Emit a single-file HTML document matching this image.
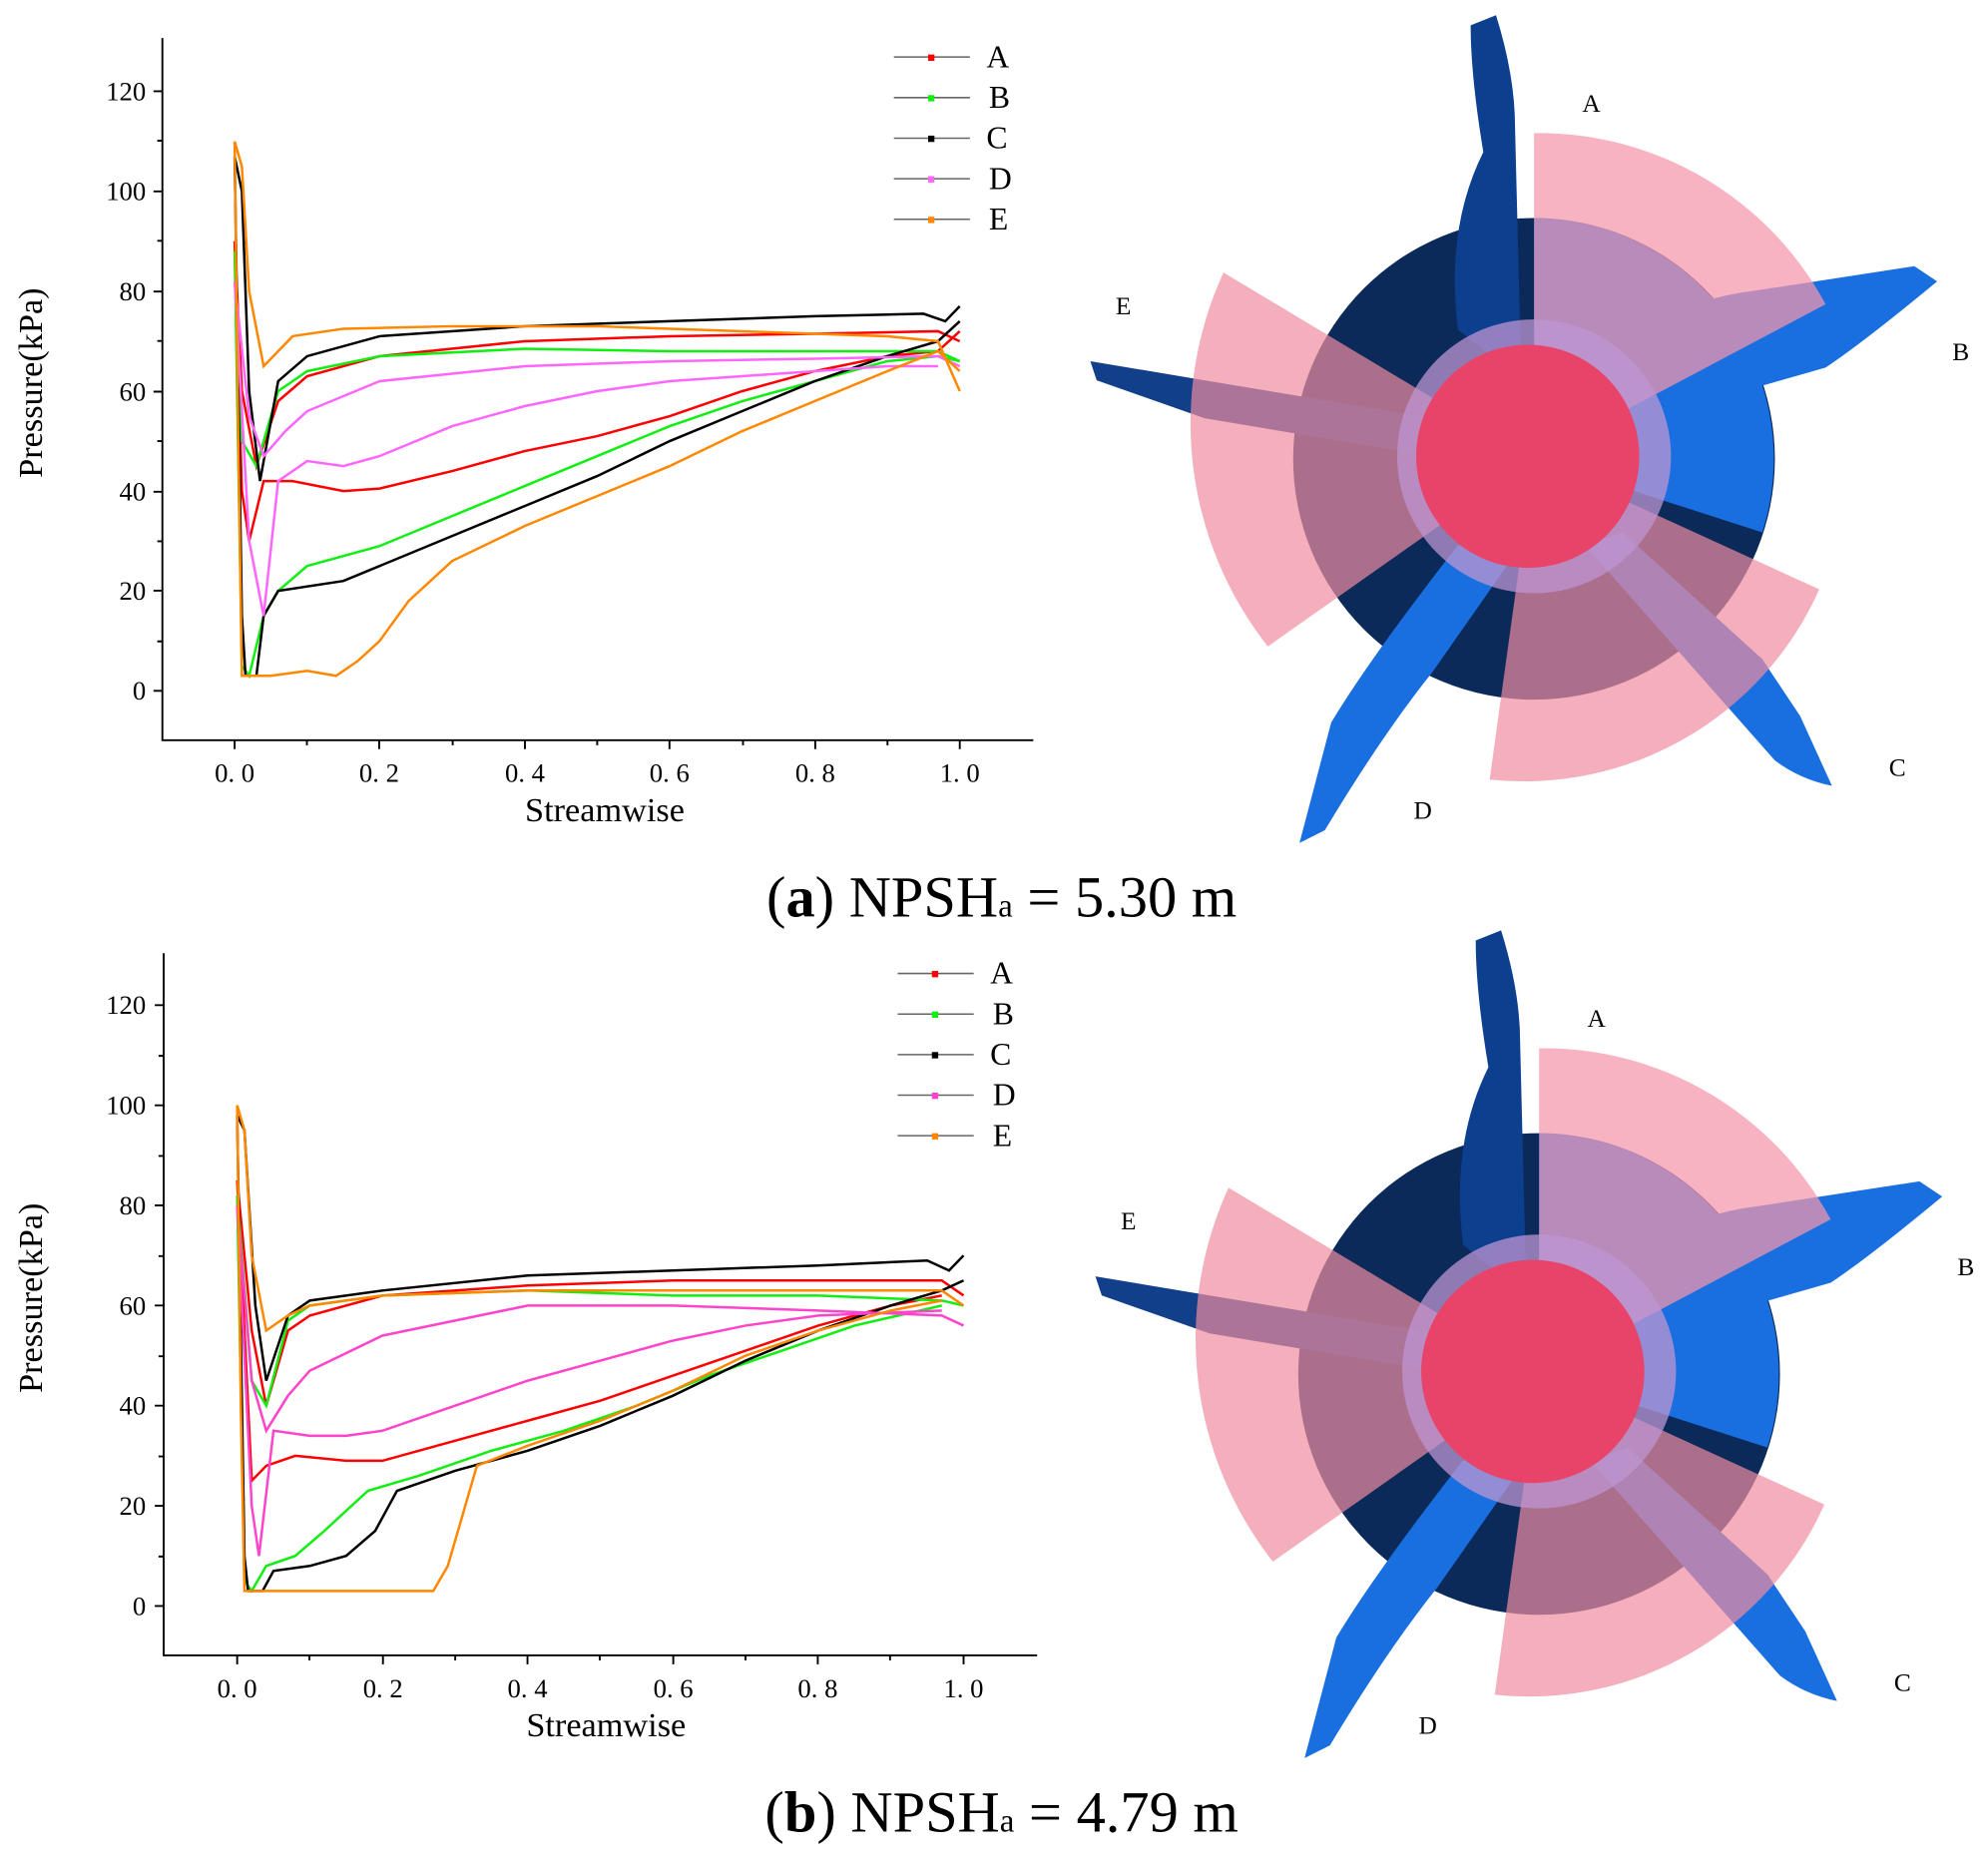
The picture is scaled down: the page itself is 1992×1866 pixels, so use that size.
<!DOCTYPE html>
<html><head><meta charset="utf-8">
<style>html,body{margin:0;padding:0;background:#fff}svg{display:block}</style></head>
<body>
<svg width="1992" height="1866" viewBox="0 0 1568 1469" xmlns="http://www.w3.org/2000/svg" font-family="Liberation Serif, serif">
<defs>
<g id="imp">
  <circle cx="1210" cy="362" r="190" fill="#0b2a5a"/>
  <path d="M1210,172 A190,190 0 0 1 1390,420 L1210,362 Z" fill="#1a6fe0"/>
  <path d="M1150,260 Q1140,180 1170,120 Q1160,60 1160,20 L1180,12 Q1195,60 1195,100 L1200,300 Z" fill="#0d3f8f"/>
  <path d="M1280,300 Q1300,240 1380,230 L1510,210 L1528,222 Q1470,270 1440,290 L1300,330 Z" fill="#1a6fe0"/>
  <path d="M1280,420 L1390,520 L1420,565 L1445,620 Q1420,615 1400,600 L1250,430 Z" fill="#1a6fe0"/>
  <path d="M1150,430 Q1080,520 1050,570 L1025,665 L1045,655 Q1090,580 1130,530 L1200,430 Z" fill="#1a6fe0"/>
  <path d="M1130,330 L950,300 L860,285 L865,300 L950,330 L1130,360 Z" fill="#123f8a"/>
  <path d="M1210,362 L1210,105 A257,257 0 0 1 1440,240 Z" fill="rgba(245,150,170,0.72)"/>
  <path d="M1210,362 L965,215 A285,285 0 0 0 1000,510 Z" fill="rgba(240,140,160,0.7)"/>
  <path d="M1210,362 L1175,615 A255,255 0 0 0 1435,465 Z" fill="rgba(240,140,160,0.7)"/>
  <circle cx="1210" cy="360" r="108" fill="rgba(190,150,210,0.75)"/>
  <circle cx="1205" cy="360" r="88" fill="#e8446a"/>
  <text x="1248" y="88" font-size="20">A</text>
  <text x="1540" y="284" font-size="20">B</text>
  <text x="1490" y="612" font-size="20">C</text>
  <text x="1115" y="646" font-size="20">D</text>
  <text x="880" y="248" font-size="20">E</text>
</g>
</defs>

<!-- Chart a -->
<g stroke="#000" stroke-width="1.5" fill="none">
  <path d="M128,30 V584 H815"/>
  <path d="M128,545 h-7 M128,466 h-7 M128,388 h-7 M128,309 h-7 M128,230 h-7 M128,151 h-7 M128,72 h-7 M128,506 h-4 M128,427 h-4 M128,348 h-4 M128,269 h-4 M128,190 h-4 M128,111 h-4"/>
  <path d="M185,584 v7 M299,584 v7 M414,584 v7 M528,584 v7 M643,584 v7 M757,584 v7 M242,584 v4 M357,584 v4 M471,584 v4 M586,584 v4 M700,584 v4"/>
</g>
<g font-size="21" text-anchor="end">
<text x="115" y="552">0</text><text x="115" y="473">20</text><text x="115" y="395">40</text><text x="115" y="316">60</text><text x="115" y="237">80</text><text x="115" y="158">100</text><text x="115" y="79">120</text>
</g>
<g font-size="21" text-anchor="middle">
<text x="185" y="617">0. 0</text><text x="299" y="617">0. 2</text><text x="414" y="617">0. 4</text><text x="528" y="617">0. 6</text><text x="643" y="617">0. 8</text><text x="757" y="617">1. 0</text>
</g>
<text x="477" y="648" font-size="27" text-anchor="middle">Streamwise</text>
<text transform="translate(33,302) rotate(-90)" font-size="27" text-anchor="middle">Pressure(kPa)</text>

<g transform="translate(185,545) scale(572,-3.94)" fill="none">
 <polyline stroke="#f00" stroke-width="2.5" vector-effect="non-scaling-stroke" points="0,90 0.01,60 0.03,45 0.06,58 0.1,63 0.2,67 0.4,70 0.6,71 0.8,71.5 0.97,72 1,70"/>
 <polyline stroke="#f00" stroke-width="2.5" vector-effect="non-scaling-stroke" points="0,90 0.01,40 0.02,30 0.04,42 0.08,42 0.15,40 0.2,40.5 0.3,44 0.4,48 0.5,51 0.6,55 0.7,60 0.8,64 0.9,67 0.97,68 1,72"/>
 <polyline stroke="#1e1" stroke-width="2.5" vector-effect="non-scaling-stroke" points="0,88 0.01,50 0.03,45 0.06,60 0.1,64 0.2,67 0.4,68.5 0.6,68 0.8,68 0.97,68 1,66"/>
 <polyline stroke="#1e1" stroke-width="2.5" vector-effect="non-scaling-stroke" points="0,88 0.01,5 0.02,3 0.04,15 0.06,20 0.1,25 0.2,29 0.3,35 0.4,41 0.5,47 0.6,53 0.7,58 0.8,62 0.9,66 0.97,67 1,66"/>
 <polyline stroke="#000" stroke-width="2.5" vector-effect="non-scaling-stroke" points="0,107 0.01,100 0.02,60 0.035,42 0.06,62 0.1,67 0.2,71 0.4,73 0.6,74 0.8,75 0.95,75.5 0.98,74 1,77"/>
 <polyline stroke="#000" stroke-width="2.5" vector-effect="non-scaling-stroke" points="0,107 0.01,15 0.015,3 0.03,3 0.04,15 0.06,20 0.15,22 0.2,25 0.3,31 0.4,37 0.5,43 0.6,50 0.7,56 0.8,62 0.9,67 0.97,70 1,74"/>
 <polyline stroke="#f6f" stroke-width="2.5" vector-effect="non-scaling-stroke" points="0,82 0.02,55 0.04,47 0.07,52 0.1,56 0.2,62 0.4,65 0.6,66 0.8,66.5 0.97,67 1,65"/>
 <polyline stroke="#f6f" stroke-width="2.5" vector-effect="non-scaling-stroke" points="0,82 0.02,30 0.04,15 0.06,42 0.1,46 0.15,45 0.2,47 0.3,53 0.4,57 0.5,60 0.6,62 0.7,63 0.8,64 0.9,65 0.97,65"/>
 <polyline stroke="#f80" stroke-width="2.5" vector-effect="non-scaling-stroke" points="0,110 0.01,105 0.02,80 0.04,65 0.08,71 0.15,72.5 0.3,73 0.5,73 0.7,72 0.9,71 0.97,70 1,60"/>
 <polyline stroke="#f80" stroke-width="2.5" vector-effect="non-scaling-stroke" points="0,110 0.005,50 0.01,3 0.05,3 0.1,4 0.14,3 0.17,6 0.2,10 0.24,18 0.3,26 0.4,33 0.5,39 0.6,45 0.7,52 0.8,58 0.9,64 0.97,68 1,64"/>
</g>
<g stroke-width="1.2" stroke="#666"><path d="M705,45 h60 M705,77 h60 M705,109 h60 M705,141 h60 M705,173 h60"/></g>
<g><rect x="732" y="43" width="5" height="5" fill="#f00"/><rect x="732" y="75" width="5" height="5" fill="#1e1"/><rect x="732" y="107" width="5" height="5" fill="#000"/><rect x="732" y="139" width="5" height="5" fill="#f6f"/><rect x="732" y="171" width="5" height="5" fill="#f80"/></g>
<g font-size="25"><text x="778" y="53">A</text><text x="780" y="85">B</text><text x="778" y="117">C</text><text x="780" y="149">D</text><text x="780" y="181">E</text></g>

<use href="#imp"/>
<text x="790" y="723" font-size="46" text-anchor="middle">(<tspan font-weight="bold">a</tspan>) NPSH<tspan font-size="26">a</tspan> = 5.30 m</text>

<!-- Chart b -->
<g stroke="#000" stroke-width="1.5" fill="none">
  <path d="M129,752 V1306 H818"/>
  <path d="M129,1267 h-7 M129,1188 h-7 M129,1109 h-7 M129,1030 h-7 M129,951 h-7 M129,872 h-7 M129,793 h-7 M129,1228 h-4 M129,1149 h-4 M129,1070 h-4 M129,991 h-4 M129,912 h-4 M129,833 h-4"/>
  <path d="M187,1306 v7 M302,1306 v7 M416,1306 v7 M531,1306 v7 M645,1306 v7 M760,1306 v7 M244,1306 v4 M359,1306 v4 M473,1306 v4 M588,1306 v4 M702,1306 v4"/>
</g>
<g font-size="21" text-anchor="end">
<text x="115" y="1274">0</text><text x="115" y="1195">20</text><text x="115" y="1116">40</text><text x="115" y="1037">60</text><text x="115" y="958">80</text><text x="115" y="879">100</text><text x="115" y="800">120</text>
</g>
<g font-size="21" text-anchor="middle">
<text x="187" y="1339">0. 0</text><text x="302" y="1339">0. 2</text><text x="416" y="1339">0. 4</text><text x="531" y="1339">0. 6</text><text x="645" y="1339">0. 8</text><text x="760" y="1339">1. 0</text>
</g>
<text x="478" y="1370" font-size="27" text-anchor="middle">Streamwise</text>
<text transform="translate(33,1024) rotate(-90)" font-size="27" text-anchor="middle">Pressure(kPa)</text>

<g transform="translate(187,1267) scale(573,-3.95)" fill="none">
 <polyline stroke="#f00" stroke-width="2.5" vector-effect="non-scaling-stroke" points="0,85 0.02,55 0.04,40 0.07,55 0.1,58 0.2,62 0.4,64 0.6,65 0.8,65 0.97,65 1,62"/>
 <polyline stroke="#f00" stroke-width="2.5" vector-effect="non-scaling-stroke" points="0,85 0.02,25 0.04,28 0.08,30 0.15,29 0.2,29 0.3,33 0.4,37 0.5,41 0.6,46 0.7,51 0.8,56 0.9,60 0.97,62"/>
 <polyline stroke="#1e1" stroke-width="2.5" vector-effect="non-scaling-stroke" points="0,82 0.02,45 0.04,40 0.07,57 0.1,60 0.2,62 0.4,63 0.6,62 0.8,62 0.97,61 1,60"/>
 <polyline stroke="#1e1" stroke-width="2.5" vector-effect="non-scaling-stroke" points="0,82 0.01,5 0.02,3 0.04,8 0.08,10 0.12,15 0.18,23 0.25,26 0.35,31 0.45,35 0.55,40 0.65,46 0.75,51 0.85,56 0.97,60"/>
 <polyline stroke="#000" stroke-width="2.5" vector-effect="non-scaling-stroke" points="0,98 0.01,95 0.025,60 0.04,45 0.07,58 0.1,61 0.2,63 0.4,66 0.6,67 0.8,68 0.95,69 0.98,67 1,70"/>
 <polyline stroke="#000" stroke-width="2.5" vector-effect="non-scaling-stroke" points="0,98 0.01,10 0.015,3 0.035,3 0.05,7 0.1,8 0.15,10 0.19,15 0.22,23 0.3,27 0.4,31 0.5,36 0.6,42 0.7,49 0.8,55 0.9,60 0.97,63 1,65"/>
 <polyline stroke="#f4c" stroke-width="2.5" vector-effect="non-scaling-stroke" points="0,80 0.02,45 0.04,35 0.07,42 0.1,47 0.2,54 0.4,60 0.6,60 0.8,59 0.97,58 1,56"/>
 <polyline stroke="#f4c" stroke-width="2.5" vector-effect="non-scaling-stroke" points="0,80 0.02,20 0.03,10 0.05,35 0.1,34 0.15,34 0.2,35 0.3,40 0.4,45 0.5,49 0.6,53 0.7,56 0.8,58 0.97,59"/>
 <polyline stroke="#f80" stroke-width="2.5" vector-effect="non-scaling-stroke" points="0,100 0.01,95 0.02,70 0.04,55 0.07,58 0.1,60 0.2,62 0.4,63 0.6,63 0.8,63 0.97,63 1,60"/>
 <polyline stroke="#f80" stroke-width="2.5" vector-effect="non-scaling-stroke" points="0,100 0.005,40 0.01,3 0.05,3 0.15,3 0.27,3 0.29,8 0.31,18 0.33,28 0.4,32 0.5,37 0.6,43 0.7,50 0.8,55 0.9,59 0.97,61"/>
</g>
<g stroke-width="1.2" stroke="#666"><path d="M708,768 h60 M708,800 h60 M708,832 h60 M708,864 h60 M708,896 h60"/></g>
<g><rect x="735" y="766" width="5" height="5" fill="#f00"/><rect x="735" y="798" width="5" height="5" fill="#1e1"/><rect x="735" y="830" width="5" height="5" fill="#000"/><rect x="735" y="862" width="5" height="5" fill="#f4c"/><rect x="735" y="894" width="5" height="5" fill="#f80"/></g>
<g font-size="25"><text x="781" y="776">A</text><text x="783" y="808">B</text><text x="781" y="840">C</text><text x="783" y="872">D</text><text x="783" y="904">E</text></g>

<use href="#imp" transform="translate(4,722)"/>
<text x="790" y="1445" font-size="46" text-anchor="middle">(<tspan font-weight="bold">b</tspan>) NPSH<tspan font-size="26">a</tspan> = 4.79 m</text>
</svg>
</body></html>
